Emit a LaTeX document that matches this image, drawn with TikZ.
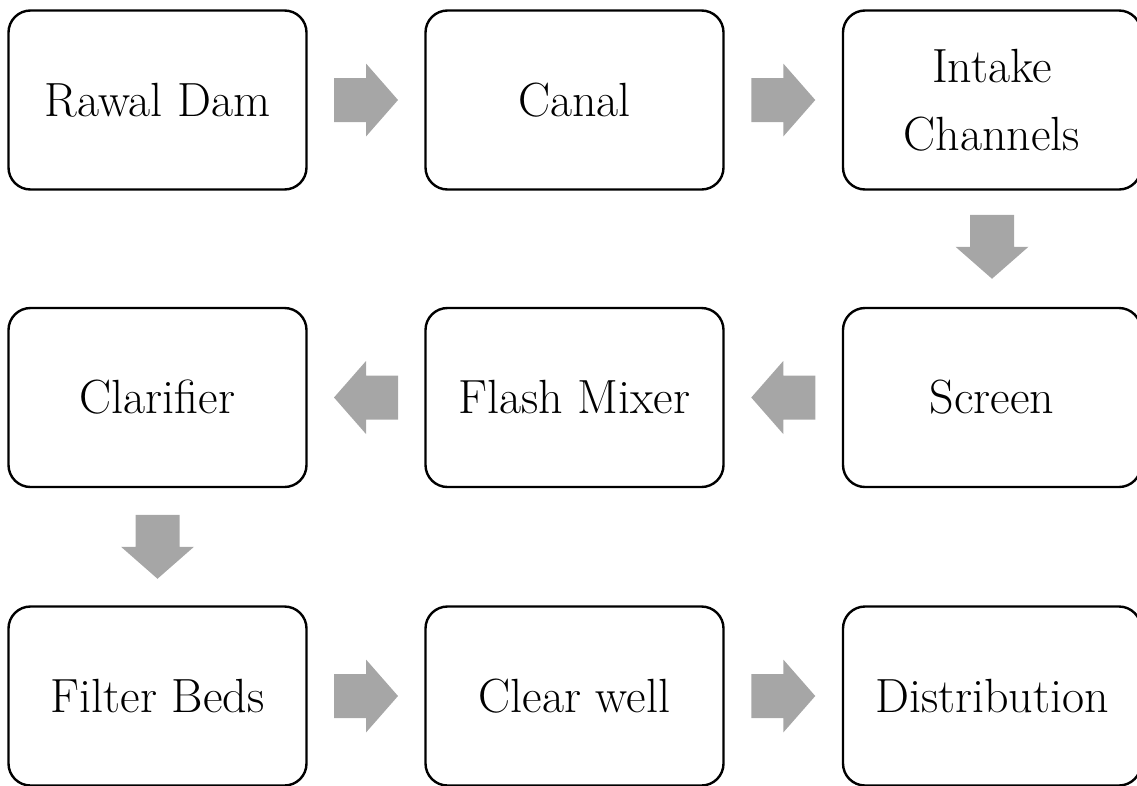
\documentclass[tikz,border=0pt]{standalone}
\usetikzlibrary{calc}
\definecolor{arrowgray}{RGB}{166,166,166}
\begin{document}
\begin{tikzpicture}[x=1pt,y=-1pt,
  box/.style={draw=black, line width=2.4pt, rounded corners=22pt,
    minimum width=298pt, minimum height=179pt, align=center,
    font=\fontsize{48}{68}\selectfont, inner sep=0pt, fill=white},
  blockarrow/.pic={\fill[arrowgray] (-32,-22) -- (0,-22) -- (0,-36.5) -- (32,0)
     -- (0,36.5) -- (0,22) -- (-32,22) -- cycle;}]
\useasboundingbox (0,0) rectangle (1137,785);
\node[box] (dam) at (157.5,100) {Rawal Dam};
\node[box] (canal) at (574.5,100) {Canal};
\node[box] (intake) at (992,100) {Intake\\Channels};
\node[box] (clar) at (157.5,397.5) {Clarifier};
\node[box] (flash) at (574.5,397.5) {Flash Mixer};
\node[box] (screen) at (992,397.5) {Screen};
\node[box] (filter) at (157.5,696) {Filter Beds};
\node[box] (clear) at (574.5,696) {Clear well};
\node[box] (dist) at (992,696) {Distribution};
\pic at ($(dam.east)!0.5!(canal.west)$) {blockarrow};
\pic at ($(canal.east)!0.5!(intake.west)$) {blockarrow};
\pic[rotate=-90] at ($(intake.south)!0.5!(screen.north)+(0,-2)$) {blockarrow};
\pic[rotate=180] at ($(screen.west)!0.5!(flash.east)$) {blockarrow};
\pic[rotate=180] at ($(flash.west)!0.5!(clar.east)$) {blockarrow};
\pic[rotate=-90] at ($(clar.south)!0.5!(filter.north)$) {blockarrow};
\pic at ($(filter.east)!0.5!(clear.west)$) {blockarrow};
\pic at ($(clear.east)!0.5!(dist.west)$) {blockarrow};
\end{tikzpicture}
\end{document}
